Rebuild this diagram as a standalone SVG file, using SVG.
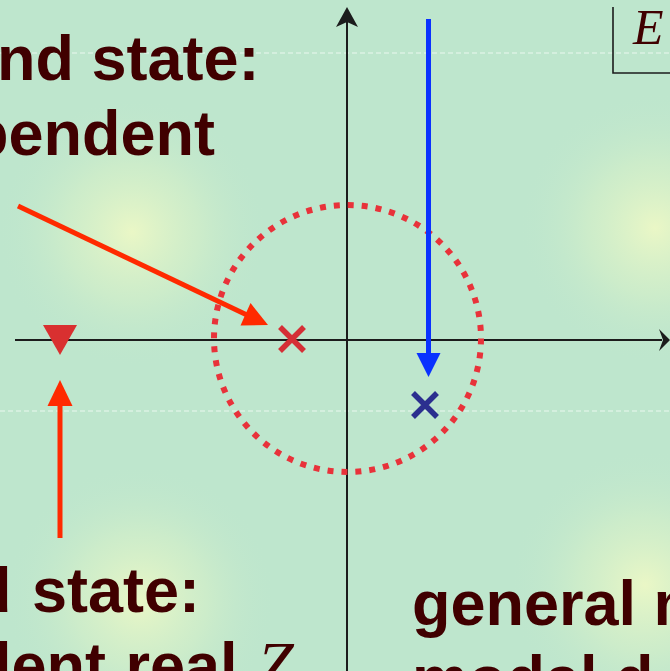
<svg xmlns="http://www.w3.org/2000/svg" width="670" height="671" viewBox="0 0 670 671">
  <defs>
    <radialGradient id="glow" cx="0.5" cy="0.5" r="0.5">
      <stop offset="0" stop-color="#eaf7c6" stop-opacity="1"/>
      <stop offset="0.5" stop-color="#d6f0c8" stop-opacity="0.6"/>
      <stop offset="1" stop-color="#bfe6cd" stop-opacity="0"/>
    </radialGradient>
    <style>
      .lbl { font-family: "Liberation Sans", Arial, sans-serif; font-weight: bold; font-size: 63px; fill: #400000; }
      .math { font-family: "Liberation Serif", "Times New Roman", serif; font-style: italic; fill: #400000; }
      .axis { stroke: #1c1c1c; stroke-width: 2; fill: none; }
      .ahead { fill: #1c1c1c; }
      .red { stroke: #ff2a00; stroke-width: 5; fill: none; }
      .redhead { fill: #ff2a00; }
      .dash { stroke: #ffffff; stroke-opacity: 0.35; stroke-width: 2; stroke-dasharray: 5 3; }
    </style>
  </defs>

  <g id="background">
    <rect x="0" y="0" width="670" height="671" fill="#bee6cd"/>
    <circle cx="132" cy="232" r="135" fill="url(#glow)"/>
    <circle cx="655" cy="228" r="135" fill="url(#glow)"/>
    <circle cx="140" cy="600" r="135" fill="url(#glow)"/>
    <circle cx="645" cy="585" r="135" fill="url(#glow)"/>
    <line class="dash" x1="0" y1="53" x2="670" y2="53"/>
    <line class="dash" x1="0" y1="411" x2="670" y2="411"/>
  </g>

  <g id="axes">
    <line class="axis" x1="347" y1="671" x2="347" y2="18"/>
    <path class="ahead" d="M347,7 L358,27 L347,22 L336,27 Z"/>
    <line class="axis" x1="15" y1="340" x2="662" y2="340"/>
    <path class="ahead" d="M670,340 L659,329 L663,340 L659,351 Z"/>
  </g>

  <g id="energy-box">
    <path d="M613,7 V73 H670" stroke="#1c1c1c" stroke-width="1.6" fill="none"/>
    <text class="math" x="633" y="44" font-size="50">E</text>
  </g>

  <g id="circle">
    <circle cx="347.5" cy="338.5" r="133.5" fill="none" stroke="#e8323a" stroke-width="6" stroke-dasharray="6 7.98"/>
  </g>

  <g id="pole-red">
    <path d="M280,327 L304,351 M304,327 L280,351" stroke="#d52f36" stroke-width="5.5"/>
  </g>

  <g id="pole-blue">
    <path d="M413,393 L437,417 M437,393 L413,417" stroke="#2b2f8f" stroke-width="5.5"/>
  </g>

  <g id="triangle">
    <path d="M43,325 L77,325 L60,355 Z" fill="#d93030"/>
  </g>

  <g id="connectors">
    <line class="red" x1="18" y1="206" x2="247" y2="315"/>
    <path class="redhead" d="M268,325 L240.5,325.5 L250.5,303 Z"/>
    <line class="red" x1="60" y1="538" x2="60" y2="402"/>
    <path class="redhead" d="M60,380 L72.5,406 L47.5,406 Z"/>
    <line x1="428.5" y1="19" x2="428.5" y2="356" stroke="#0a32ff" stroke-width="5"/>
    <path d="M428.5,377 L416.5,353 L440.5,353 Z" fill="#0a32ff"/>
  </g>

  <g id="label-top-left">
    <text class="lbl" x="-3" y="80">nd state:</text>
    <text class="lbl" x="-30" y="155">pendent</text>
  </g>

  <g id="label-bottom-left">
    <text class="lbl" x="-27" y="612" word-spacing="3">d state:</text>
    <text class="lbl" x="-27" y="687" word-spacing="2">dent real <tspan class="math" font-weight="normal" font-size="66">Z</tspan></text>
  </g>

  <g id="label-bottom-right">
    <text class="lbl" x="412" y="625">general m</text>
    <text class="lbl" x="412" y="700">modal d</text>
  </g>
</svg>
